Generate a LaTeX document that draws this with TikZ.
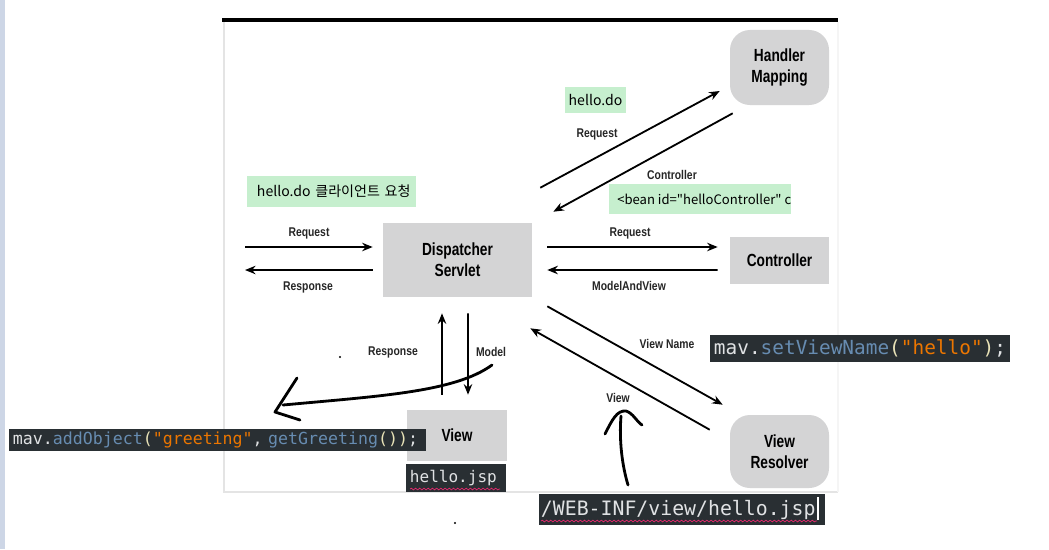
\documentclass[tikz,border=0pt]{standalone}
\usepackage{fontspec}
\usetikzlibrary{arrows.meta,calc,decorations.pathmorphing}
\newfontfamily\boxfont[FakeStretch=0.78]{Liberation Sans}
\newfontfamily\lblfont[FakeStretch=0.82]{Liberation Sans}
\newfontfamily\hintfont{Noto Sans CJK KR}
\newfontfamily\codefont{DejaVu Sans Mono}
\definecolor{boxgray}{RGB}{212,212,213}
\definecolor{hintgreen}{RGB}{198,239,206}
\definecolor{codebg}{RGB}{41,47,51}
\definecolor{codefg}{RGB}{224,226,228}
\definecolor{codeblue}{RGB}{103,140,177}
\definecolor{codeparen}{RGB}{232,226,183}
\definecolor{codestr}{RGB}{236,118,0}
\definecolor{spellred}{RGB}{230,40,110}
\definecolor{panelgray}{RGB}{228,228,228}
\definecolor{stripe}{RGB}{205,214,230}
\begin{document}
\begin{tikzpicture}[
	x=0.025cm, y=-0.025cm,
	box/.style={ fill=boxgray, inner sep=0pt, align=center, font=\boxfont\bfseries\fontsize{12.5}{15}\selectfont },
	rbox/.style={ box, rounded corners=0.5cm },
	lbl/.style={ inner sep=0pt, text=black!85, font=\lblfont\bfseries\fontsize{9}{11}\selectfont },
	arr/.style={ line width=1.3pt, -{Stealth[length=7.5pt,width=6pt]} },
	hint/.style={ fill=hintgreen, inner sep=0pt, font=\hintfont\fontsize{10}{12}\selectfont },
	code/.style={ fill=codebg, inner sep=0pt, text=codefg, align=left },
	scrawl/.style={ line width=2pt, line cap=round, line join=round },
	squiggle/.style={ draw=spellred, line width=0.5pt, decorate, decoration={snake, amplitude=0.6pt, segment length=3pt} }
]

% page
\fill[white] (0,0) rectangle (1049,549);
\useasboundingbox (0,0) rectangle (1049,549);
\fill[stripe] (0,0) rectangle (5,549);
\draw[panelgray, line width=0.8pt] (224,22) -- (224,492) -- (838,492);
\draw[black!4, line width=0.8pt] (838,22) -- (838,492);
\draw[line width=2.2pt] (222,20) -- (838,20);

% components
\node (ds) [box, minimum width=3.725cm, minimum height=1.85cm] at (457.5,260) {Dispatcher\\Servlet};
\node (hm) [rbox, minimum width=2.475cm, minimum height=1.875cm] at (779.5,67.5) {Handler\\Mapping};
\node (ctl) [box, minimum width=2.475cm, minimum height=1.175cm] at (779.5,260.5) {Controller};
\node (vr) [rbox, minimum width=2.475cm, minimum height=1.825cm] at (779.5,451.5) {View\\Resolver};
\node (view) [box, minimum width=2.5cm, minimum height=1.275cm] at (457,435.5) {View};

% client side
\coordinate (cli1) at (245,247);
\coordinate (cli2) at (245,270);
\draw[arr] (cli1) -- ($(ds.west)+(-10,-13)$);
\draw[arr] ($(ds.west)+(-10,10)$) -- (cli2);
\node (lreq1) [lbl] at (309,233) {Request};
\node (lres1) [lbl] at (308,287) {Response};

% handler mapping
\draw[arr] ($(ds.north east)+(8,-35)$) -- ($(hm.west)+(-10,23.5)$);
\draw[arr] ($(hm.south west)+(3,8)$) -- ($(ds.north east)+(21,-11)$);
\node (lreq2) [lbl] at (597,134) {Request};
\node (lctl) [lbl] at (672,175) {Controller};

% controller
\draw[arr] ($(ds.east)+(15,-13)$) -- ($(ctl.west)+(-12,-13.5)$);
\draw[arr] ($(ctl.west)+(-12,9.5)$) -- ($(ds.east)+(15,10)$);
\node (lreq3) [lbl] at (630,233) {Request};
\node (lmav) [lbl] at (629,286) {ModelAndView};

% view resolver
\draw[arr] ($(ds.south east)+(15,9)$) -- ($(vr.north west)+(-7,-10)$);
\draw[arr] ($(vr.north west)+(-20,15)$) -- ($(ds.south east)+(-2,31)$);
\node (lvname) [lbl] at (667,344) {View Name};
\node (lview) [lbl] at (618,398) {View};

% view
\draw[arr] ($(view.north)+(-15,-15)$) -- ($(ds.south)+(-15.5,16)$);
\draw[arr] ($(ds.south)+(10.5,16)$) -- ($(view.north)+(11,-15)$);
\node (lres2) [lbl] at (393,352) {Response};
\node (lmodel) [lbl] at (491,352) {Model};

% notes
\node (g1) [hint, minimum width=4.225cm, minimum height=0.775cm, text width=3.725cm, align=left] at (331.5,191.5) {\mbox{hello.do 클라이언트 요청}};
\node (g2) [hint, minimum width=1.525cm, minimum height=0.65cm] at (595.5,100) {hello.do};
\node (g3) [hint, minimum width=4.55cm, minimum height=0.75cm] at (700,199) {};
\begin{scope}
	\clip (g3.south west) rectangle (g3.north east);
	\node (g3t) [hint, fill=none, anchor=west, font=\hintfont\fontsize{9.3}{12}\selectfont] at (617,199) {<bean id="helloController" c};
\end{scope}

% code snippets
\node (c1) [code, minimum width=7.5cm, minimum height=0.675cm, text width=7.3cm, font=\codefont\fontsize{13.8}{16}\selectfont] at (860,348.5)
	{\mbox{mav.\textcolor{codeblue}{setViewName}\textcolor{codeparen}{(}\textcolor{codestr}{"hello"}\textcolor{codeparen}{)};}};
\node (c2) [code, minimum width=10.425cm, minimum height=0.55cm, text width=10.225cm, font=\codefont\fontsize{11.8}{14}\selectfont] at (217.5,440)
	{\mbox{mav.\textcolor{codeblue}{addObject}\textcolor{codeparen}{(}\textcolor{codestr}{"greeting"}, \textcolor{codeblue}{getGreeting}\textcolor{codeparen}{())};}};
\node (c3) [code, minimum width=2.5cm, minimum height=0.7cm, text width=2.3cm, font=\codefont\fontsize{11.4}{14}\selectfont] at (456,478) {hello.jsp};
\node (c4) [code, minimum width=7.15cm, minimum height=0.775cm, text width=7.05cm, font=\codefont\fontsize{14.1}{17}\selectfont] at (682,509.5) {\mbox{/WEB-INF/view/hello.jsp}};
\draw[squiggle] (410,489) -- (500,489);
\draw[squiggle] (541,521) -- (817,521);
\draw[white, line width=0.8pt] (818,497) -- (818,520);

% hand drawn marks
\draw[scrawl] (492,365) .. controls (455,392) and (380,396) .. (283,405);
\draw[scrawl] (297,378) -- (275,412) -- (300,420);
\draw[scrawl] (628,485) .. controls (622,465) and (619,440) .. (621,416);
\draw[scrawl] (605,434) .. controls (612,420) and (617,410) .. (626,411) .. controls (633,413) and (637,422) .. (642,425);
\fill (340,357) circle (1.2);
\fill (455,523) circle (1.2);

\end{tikzpicture}
\end{document}
